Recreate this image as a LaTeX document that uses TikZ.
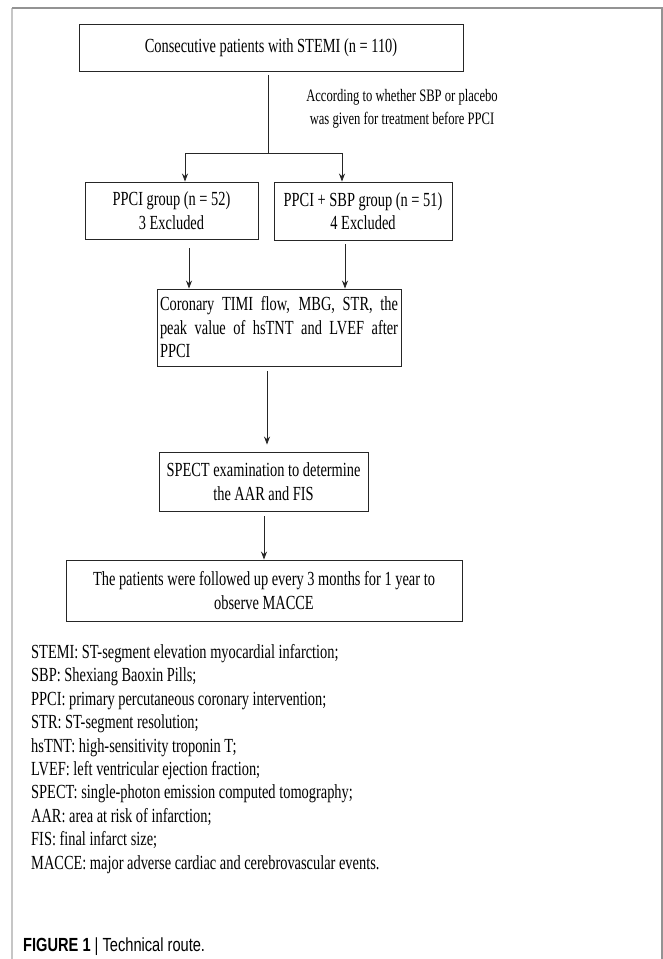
\documentclass[tikz,border=0pt]{standalone}
\usepackage{fontspec}
\setmainfont{Liberation Serif}[FakeStretch=0.72]
\newfontfamily\capfont{Liberation Sans}[FakeStretch=0.77]
\usetikzlibrary{arrows.meta}

\begin{document}
\begin{tikzpicture}[x=1pt,y=-1pt,
  box/.style={draw=black!85, line width=0.9pt, align=center, inner sep=2pt,
    font=\fontsize{20}{23.5}\selectfont},
  arr/.style={-{Stealth[length=8pt,width=6pt]}, line width=0.8pt, black!85}]
\useasboundingbox (0,0) rectangle (663,959);
% frame
\draw[gray!45, line width=1.3pt] (12,8) -- (12,959);
\draw[gray!85, line width=1.3pt] (12,8) -- (662,8) -- (662,959);
% boxes
\node[box, minimum width=384pt, minimum height=47pt] (stemi) at (271,47.5)
  {Consecutive patients with STEMI (n = 110)};
\node[align=center, font=\fontsize{17.5}{23}\selectfont] (note) at (402,108.5)
  {According to whether SBP or placebo\\was given for treatment before PPCI};
\node[box, minimum width=173pt, minimum height=57pt] (ppci) at (171.5,210.5)
  {PPCI group (n = 52)\\3 Excluded};
\node[box, minimum width=178pt, minimum height=58pt] (sbp) at (363,211)
  {PPCI + SBP group (n = 51)\\4 Excluded};
\node[box, text width=238pt, align=justify, inner xsep=3pt, minimum height=77pt] (route) at (279,327.5)
  {Coronary TIMI flow, MBG, STR, the\linebreak peak value of hsTNT and LVEF after\linebreak PPCI};
\node[box, minimum width=209pt, minimum height=59pt] (spect) at (263.5,481.5)
  {SPECT examination to determine\\the AAR and FIS};
\node[box, minimum width=396pt, minimum height=61pt] (follow) at (264,590.5)
  {The patients were followed up every 3 months for 1 year to\\observe MACCE};
% connectors
\coordinate (fork) at (268,153);
\coordinate (forkL) at (185,153);
\coordinate (forkR) at (342,153);
\draw[line width=0.8pt, black!85] (stemi.south -| fork) ++(0,4) -- (fork);
\draw[line width=0.8pt, black!85] (forkL) -- (forkR);
\draw[arr] (forkL) -- (forkL |- ppci.north);
\draw[arr] (forkR) -- (forkR |- sbp.north);
\coordinate (downL) at (189,248);
\coordinate (downR) at (345,244);
\draw[arr] (downL) -- (downL |- route.north);
\draw[arr] (downR) -- (downR |- route.north);
\coordinate (downM) at (267,371);
\draw[arr, shorten >=7pt] (downM) -- (downM |- spect.north);
\coordinate (downS) at (264,516);
\draw[arr] (downS) -- (downS |- follow.north);
% abbreviations
\node[anchor=north west, align=left, inner sep=0pt, font=\fontsize{20}{23.45}\selectfont] (abbr) at (31,644)
  {STEMI: ST-segment elevation myocardial infarction;\\
   SBP: Shexiang Baoxin Pills;\\
   PPCI: primary percutaneous coronary intervention;\\
   STR: ST-segment resolution;\\
   hsTNT: high-sensitivity troponin T;\\
   LVEF: left ventricular ejection fraction;\\
   SPECT: single-photon emission computed tomography;\\
   AAR: area at risk of infarction;\\
   FIS: final infarct size;\\
   MACCE: major adverse cardiac and cerebrovascular events.};
\node[anchor=base west, inner sep=0pt, font=\capfont\fontsize{19}{20}\selectfont] (caption) at (23,951)
  {\textbf{FIGURE 1} | Technical route.};
\end{tikzpicture}
\end{document}
